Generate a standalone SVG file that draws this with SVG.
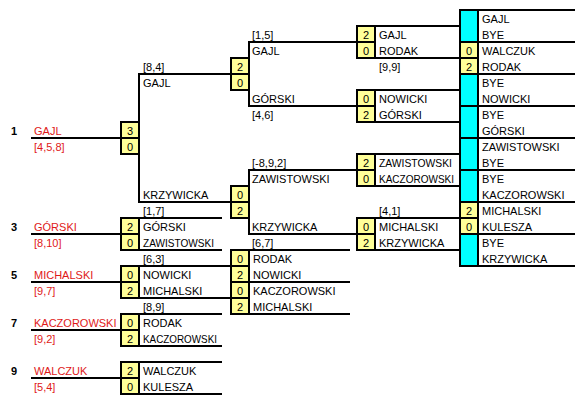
<svg xmlns="http://www.w3.org/2000/svg" width="586" height="404" viewBox="0 0 586 404">
<style>
text{font-family:"Liberation Sans",Arial,sans-serif;font-size:11px;fill:#000}
.red{fill:#e01818}
.sn{font-weight:bold}
.sc{text-anchor:middle}
.y{fill:#ffff99;stroke:#000;stroke-width:2}
.c{fill:#00ffff;stroke:#000;stroke-width:2}
line{stroke:#000;stroke-width:2}
</style>
<rect width="586" height="404" fill="#fff"/>
<g id="connectors">
<line x1="139" y1="73" x2="139" y2="203"/>
<line x1="139" y1="74" x2="231" y2="74"/>
<line x1="139" y1="202" x2="231" y2="202"/>
<line x1="249" y1="41" x2="249" y2="107"/>
<line x1="249" y1="42" x2="357" y2="42"/>
<line x1="249" y1="106" x2="357" y2="106"/>
<line x1="249" y1="169" x2="249" y2="235"/>
<line x1="249" y1="170" x2="357" y2="170"/>
<line x1="249" y1="234" x2="357" y2="234"/>
</g>
<g id="seed1"><text class="sn" x="11" y="135">1</text><text class="red" x="34" y="135">GAJL</text><text class="red" x="34" y="151">[4,5,8]</text><line x1="31" y1="138" x2="121" y2="138"/></g>
<g id="seed3"><text class="sn" x="11" y="231">3</text><text class="red" x="34" y="231">GÓRSKI</text><text class="red" x="34" y="247">[8,10]</text><line x1="31" y1="234" x2="121" y2="234"/></g>
<g id="seed5"><text class="sn" x="11" y="279">5</text><text class="red" x="34" y="279">MICHALSKI</text><text class="red" x="34" y="295">[9,7]</text><line x1="31" y1="282" x2="121" y2="282"/></g>
<g id="seed7"><text class="sn" x="11" y="327">7</text><text class="red" x="34" y="327">KACZOROWSKI</text><text class="red" x="34" y="343">[9,2]</text><line x1="31" y1="330" x2="121" y2="330"/></g>
<g id="seed9"><text class="sn" x="11" y="375">9</text><text class="red" x="34" y="375">WALCZUK</text><text class="red" x="34" y="391">[5,4]</text><line x1="31" y1="378" x2="121" y2="378"/></g>
<g id="c1m1">
<rect class="y" x="121" y="122" width="18" height="16"/><rect class="y" x="121" y="138" width="18" height="16"/>
<text class="sc" x="130" y="135">3</text><text class="sc" x="130" y="151">0</text>
<text x="143" y="71">[8,4]</text><text x="143" y="87">GAJL</text>
<text x="143" y="199">KRZYWICKA</text><text x="143" y="215">[1,7]</text>
</g>
<g id="c1m2">
<line x1="121" y1="218" x2="222" y2="218"/><line x1="121" y1="250" x2="222" y2="250"/>
<rect class="y" x="121" y="218" width="18" height="16"/><rect class="y" x="121" y="234" width="18" height="16"/>
<text class="sc" x="130" y="231">2</text><text class="sc" x="130" y="247">0</text>
<text x="143" y="231">GÓRSKI</text><text x="143" y="247" textLength="71" lengthAdjust="spacingAndGlyphs">ZAWISTOWSKI</text>
</g>
<g id="c1m3">
<text x="143" y="263">[6,3]</text>
<line x1="121" y1="266" x2="231" y2="266"/><line x1="121" y1="298" x2="231" y2="298"/>
<rect class="y" x="121" y="266" width="18" height="16"/><rect class="y" x="121" y="282" width="18" height="16"/>
<text class="sc" x="130" y="279">0</text><text class="sc" x="130" y="295">2</text>
<text x="143" y="279">NOWICKI</text><text x="143" y="295">MICHALSKI</text>
</g>
<g id="c1m4">
<text x="143" y="311">[8,9]</text>
<line x1="121" y1="314" x2="222" y2="314"/><line x1="121" y1="346" x2="222" y2="346"/>
<rect class="y" x="121" y="314" width="18" height="16"/><rect class="y" x="121" y="330" width="18" height="16"/>
<text class="sc" x="130" y="327">0</text><text class="sc" x="130" y="343">2</text>
<text x="143" y="327">RODAK</text><text x="143" y="343" textLength="74" lengthAdjust="spacingAndGlyphs">KACZOROWSKI</text>
</g>
<g id="c1m5">
<line x1="121" y1="362" x2="222" y2="362"/><line x1="121" y1="394" x2="222" y2="394"/>
<rect class="y" x="121" y="362" width="18" height="16"/><rect class="y" x="121" y="378" width="18" height="16"/>
<text class="sc" x="130" y="375">2</text><text class="sc" x="130" y="391">0</text>
<text x="143" y="375">WALCZUK</text><text x="143" y="391">KULESZA</text>
</g>
<g id="c2m1">
<rect class="y" x="231" y="58" width="18" height="16"/><rect class="y" x="231" y="74" width="18" height="16"/>
<text class="sc" x="240" y="71">2</text><text class="sc" x="240" y="87">0</text>
<text x="252" y="39">[1,5]</text><text x="252" y="55">GAJL</text>
<text x="252" y="103">GÓRSKI</text><text x="252" y="119">[4,6]</text>
</g>
<g id="c2m2">
<rect class="y" x="231" y="186" width="18" height="16"/><rect class="y" x="231" y="202" width="18" height="16"/>
<text class="sc" x="240" y="199">0</text><text class="sc" x="240" y="215">2</text>
<text x="252" y="167">[-8,9,2]</text><text x="252" y="183">ZAWISTOWSKI</text>
<text x="252" y="231">KRZYWICKA</text><text x="252" y="247">[6,7]</text>
</g>
<g id="c2m3">
<line x1="231" y1="250" x2="350" y2="250"/><line x1="231" y1="282" x2="350" y2="282"/><line x1="231" y1="314" x2="350" y2="314"/>
<rect class="y" x="231" y="250" width="18" height="16"/><rect class="y" x="231" y="266" width="18" height="16"/>
<rect class="y" x="231" y="282" width="18" height="16"/><rect class="y" x="231" y="298" width="18" height="16"/>
<text class="sc" x="240" y="263">0</text><text class="sc" x="240" y="279">2</text>
<text class="sc" x="240" y="295">0</text><text class="sc" x="240" y="311">2</text>
<text x="253" y="263">RODAK</text><text x="253" y="279">NOWICKI</text>
<text x="253" y="295">KACZOROWSKI</text><text x="253" y="311">MICHALSKI</text>
</g>
<g id="c3m1">
<line x1="357" y1="26" x2="460" y2="26"/><line x1="357" y1="58" x2="460" y2="58"/>
<rect class="y" x="357" y="26" width="18" height="16"/><rect class="y" x="357" y="42" width="18" height="16"/>
<text class="sc" x="366" y="39">2</text><text class="sc" x="366" y="55">0</text>
<text x="379" y="39">GAJL</text><text x="379" y="55">RODAK</text><text x="379" y="71">[9,9]</text>
</g>
<g id="c3m2">
<line x1="357" y1="90" x2="460" y2="90"/><line x1="357" y1="122" x2="460" y2="122"/>
<rect class="y" x="357" y="90" width="18" height="16"/><rect class="y" x="357" y="106" width="18" height="16"/>
<text class="sc" x="366" y="103">0</text><text class="sc" x="366" y="119">2</text>
<text x="379" y="103">NOWICKI</text><text x="379" y="119">GÓRSKI</text>
</g>
<g id="c3m3">
<line x1="357" y1="154" x2="460" y2="154"/><line x1="357" y1="186" x2="460" y2="186"/>
<rect class="y" x="357" y="154" width="18" height="16"/><rect class="y" x="357" y="170" width="18" height="16"/>
<text class="sc" x="366" y="167">2</text><text class="sc" x="366" y="183">0</text>
<text x="379" y="167" textLength="73" lengthAdjust="spacingAndGlyphs">ZAWISTOWSKI</text><text x="379" y="183" textLength="75" lengthAdjust="spacingAndGlyphs">KACZOROWSKI</text>
</g>
<g id="c3m4">
<text x="379" y="215">[4,1]</text>
<line x1="357" y1="218" x2="460" y2="218"/><line x1="357" y1="250" x2="460" y2="250"/>
<rect class="y" x="357" y="218" width="18" height="16"/><rect class="y" x="357" y="234" width="18" height="16"/>
<text class="sc" x="366" y="231">0</text><text class="sc" x="366" y="247">2</text>
<text x="379" y="231">MICHALSKI</text><text x="379" y="247">KRZYWICKA</text>
</g>
<g id="round1">
<rect class="c" x="460" y="10" width="18" height="256"/>
<line x1="460" y1="10" x2="575" y2="10"/><line x1="460" y1="42" x2="575" y2="42"/><line x1="460" y1="74" x2="575" y2="74"/>
<line x1="460" y1="106" x2="575" y2="106"/><line x1="460" y1="138" x2="575" y2="138"/><line x1="460" y1="170" x2="575" y2="170"/>
<line x1="460" y1="202" x2="575" y2="202"/><line x1="460" y1="234" x2="575" y2="234"/><line x1="460" y1="266" x2="575" y2="266"/>
</g>
<g id="r1m1"><text x="482" y="23">GAJL</text><text x="482" y="39">BYE</text></g>
<g id="r1m2"><rect class="y" x="460" y="42" width="18" height="16"/><rect class="y" x="460" y="58" width="18" height="16"/>
<text class="sc" x="469" y="55">0</text><text class="sc" x="469" y="71">2</text>
<text x="482" y="55">WALCZUK</text><text x="482" y="71">RODAK</text></g>
<g id="r1m3"><text x="482" y="87">BYE</text><text x="482" y="103">NOWICKI</text></g>
<g id="r1m4"><text x="482" y="119">BYE</text><text x="482" y="135">GÓRSKI</text></g>
<g id="r1m5"><text x="482" y="151">ZAWISTOWSKI</text><text x="482" y="167">BYE</text></g>
<g id="r1m6"><text x="482" y="183">BYE</text><text x="482" y="199">KACZOROWSKI</text></g>
<g id="r1m7"><rect class="y" x="460" y="202" width="18" height="16"/><rect class="y" x="460" y="218" width="18" height="16"/>
<text class="sc" x="469" y="215">2</text><text class="sc" x="469" y="231">0</text>
<text x="482" y="215">MICHALSKI</text><text x="482" y="231">KULESZA</text></g>
<g id="r1m8"><text x="482" y="247">BYE</text><text x="482" y="263">KRZYWICKA</text></g>
</svg>
